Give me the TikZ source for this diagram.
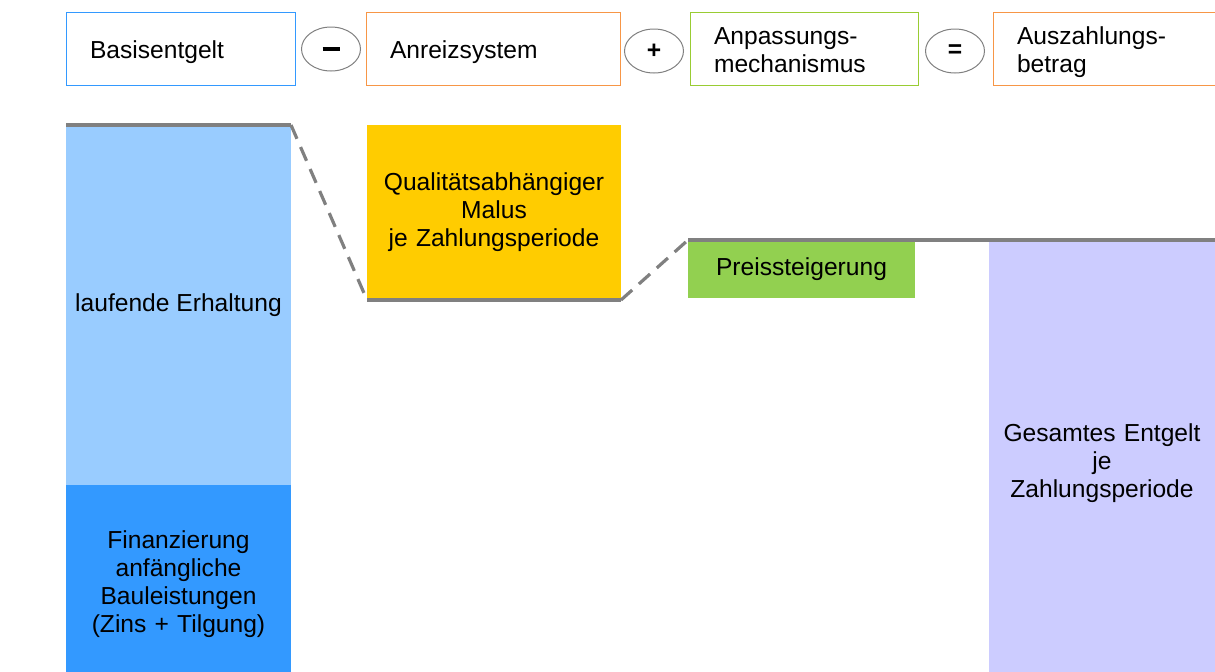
\documentclass[tikz,border=0pt]{standalone}
\usepackage{fontspec}
\setmainfont{Liberation Sans}
\usepackage{tikz}
\usetikzlibrary{shapes.geometric}
\definecolor{liniengrau}{HTML}{808080}
\definecolor{hellblau}{HTML}{99CCFF}
\definecolor{mittelblau}{HTML}{3399FF}
\definecolor{gelb}{HTML}{FFCC00}
\definecolor{gruen}{HTML}{92D050}
\definecolor{rahmengruen}{HTML}{99CC33}
\definecolor{orange}{HTML}{F79646}
\definecolor{lila}{HTML}{CCCCFF}
\newcommand{\kopfstrut}{\rule{0pt}{13.8pt}}

\begin{document}
\begin{tikzpicture}[x = 0.5pt, y = -0.5pt,
    font = \fontsize{12.3pt}{14pt}\selectfont,
    kopf/.style = {draw = #1, line width = 0.5pt, anchor = north west, inner xsep = 12pt,
        inner ysep = 0pt, minimum height = 36.5pt, align = left, outer sep = 0pt},
    rechen/.style = {draw = liniengrau, line width = 0.5pt, ellipse, fill = white,
        minimum width = 29.5pt, minimum height = 22pt, inner sep = 0pt, font = \fontsize{12.3pt}{14pt}\selectfont\bfseries},
    balken/.style = {fill = #1, anchor = north west, inner sep = 0pt, outer sep = 0pt, align = center},
    verlauf/.style = {liniengrau, line width = 1.6pt},
    sprung/.style = {verlauf, dash pattern = on 7.5pt off 4.5pt}]
\useasboundingbox (0, 0) rectangle (1215, 671);

\node [kopf = mittelblau, text width = 90.5pt] (basis) at (66, 12) {\kopfstrut Basisentgelt\strut};
\node [rechen] (minus) at (331, 49) {\rule{8.5pt}{2.4pt}};
\node [kopf = orange, text width = 103pt] (anreiz) at (366, 12) {\kopfstrut Anreizsystem\strut};
\node [rechen] (plus) at (654, 51) {+};
\node [kopf = rahmengruen, text width = 90pt] (anpassung) at (690, 12) {\kopfstrut Anpassungs-\\mechanismus\strut};
\node [rechen] (gleich) at (955, 51) {=};
\node [kopf = orange, text width = 100pt] (auszahlung) at (993, 12) {\kopfstrut Auszahlungs-\\betrag\strut};

\node [balken = hellblau, minimum width = 112.5pt, minimum height = 180pt] (erhaltung) at (66, 125) {laufende Erhaltung};
\node [balken = mittelblau, minimum width = 112.5pt, minimum height = 99pt, text width = 112.5pt] (finanz) at (66, 485)
    {Finanzierung\\anfängliche\\Bauleistungen\\(Zins + Tilgung)};
\node [balken = gelb, minimum width = 127pt, minimum height = 87.5pt, text width = 127pt] (malus) at (367, 125)
    {Qualitätsabhängiger\\Malus\\je Zahlungsperiode};
\node [balken = gruen, minimum width = 113.5pt, minimum height = 29pt] (preis) at (688, 240) {Preissteigerung};
\node [balken = lila, minimum width = 113pt, minimum height = 223.5pt, text width = 113pt] (gesamt) at (989, 240)
    {Gesamtes Entgelt\\je\\Zahlungsperiode};

\draw [verlauf] (erhaltung.north west) -- (erhaltung.north east);
\draw [sprung] (erhaltung.north east) -- (malus.south west);
\draw [verlauf] (malus.south west) -- (malus.south east);
\draw [sprung] (malus.south east) -- (preis.north west);
\draw [verlauf] (preis.north west) -- (1215, 240);
\end{tikzpicture}
\end{document}
